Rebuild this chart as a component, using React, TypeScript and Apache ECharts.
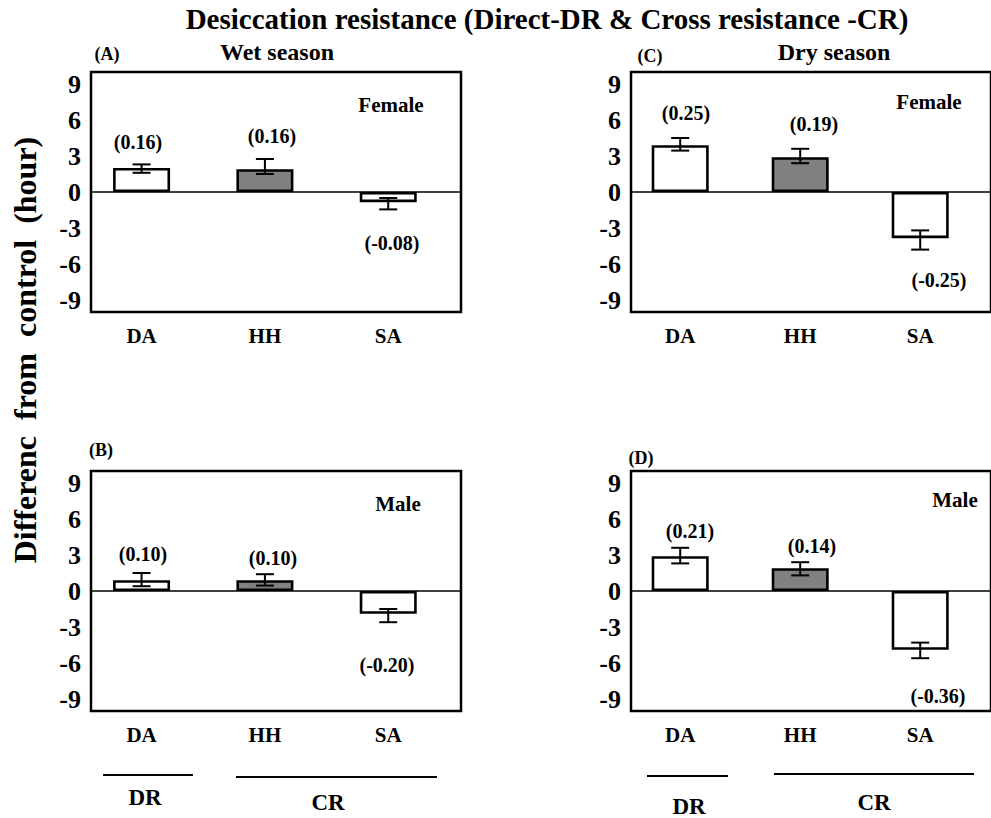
import React, { useEffect, useRef } from "react";
import * as echarts from "echarts";

const categories = ["DA", "HH", "SA"];
const yTickValues = [-9, -6, -3, 0, 3, 6, 9];

// Panel A: Wet season, Female
const wetFemale = [2.0, 1.9, -0.85];
const wetFemaleLow = [1.6, 1.5, -1.45];
const wetFemaleHigh = [2.3, 2.75, -0.5];
const wetFemaleEffect = ["(0.16)", "(0.16)", "(-0.08)"];

// Panel B: Wet season, Male
const wetMale = [0.9, 0.9, -1.9];
const wetMaleLow = [0.4, 0.45, -2.6];
const wetMaleHigh = [1.5, 1.4, -1.5];
const wetMaleEffect = ["(0.10)", "(0.10)", "(-0.20)"];

// Panel C: Dry season, Female
const dryFemale = [3.9, 2.9, -3.85];
const dryFemaleLow = [3.45, 2.4, -4.8];
const dryFemaleHigh = [4.5, 3.6, -3.2];
const dryFemaleEffect = ["(0.25)", "(0.19)", "(-0.25)"];

// Panel D: Dry season, Male
const dryMale = [2.9, 1.9, -4.9];
const dryMaleLow = [2.3, 1.3, -5.6];
const dryMaleHigh = [3.6, 2.4, -4.3];
const dryMaleEffect = ["(0.21)", "(0.14)", "(-0.36)"];

const FONT = '"Liberation Serif", "Times New Roman", serif';

export default function App() {
  const ref = useRef<HTMLDivElement>(null);

  useEffect(() => {
    if (!ref.current) return;
    const chart = echarts.init(ref.current, null, { renderer: "svg" });

    const grids = [
      { left: 91, top: 72, width: 370, height: 240 },
      { left: 91, top: 471, width: 370, height: 240 },
      { left: 631, top: 72, width: 370, height: 240 },
      { left: 631, top: 471, width: 370, height: 240 },
    ];
    const panels = [
      { v: wetFemale, lo: wetFemaleLow, hi: wetFemaleHigh },
      { v: wetMale, lo: wetMaleLow, hi: wetMaleHigh },
      { v: dryFemale, lo: dryFemaleLow, hi: dryFemaleHigh },
      { v: dryMale, lo: dryMaleLow, hi: dryMaleHigh },
    ];

    const series: any[] = [];
    panels.forEach((p, i) => {
      series.push({
        type: "bar",
        xAxisIndex: i,
        yAxisIndex: i,
        barWidth: 57,
        data: p.v.map((val, j) => ({
          value: [j, val],
          itemStyle: { color: j === 1 ? "#808080" : "#ffffff" },
        })),
        itemStyle: { borderColor: "#000", borderWidth: 2.6 },
        markLine: {
          silent: true,
          symbol: "none",
          label: { show: false },
          lineStyle: { color: "#000", width: 1.5, type: "solid" },
          data: [{ yAxis: 0 }],
          z: 1,
        },
        z: 2,
      });
      series.push({
        type: "custom",
        xAxisIndex: i,
        yAxisIndex: i,
        z: 5,
        data: p.lo.map((l, j) => [j, l, p.hi[j]]),
        renderItem: (params: any, api: any) => {
          const a = api.coord([api.value(0), api.value(1)]);
          const b = api.coord([api.value(0), api.value(2)]);
          const hw = 9;
          const st = { stroke: "#000", lineWidth: 2 };
          return {
            type: "group",
            children: [
              { type: "line", shape: { x1: a[0], y1: a[1], x2: b[0], y2: b[1] }, style: st },
              { type: "line", shape: { x1: a[0] - hw, y1: a[1], x2: a[0] + hw, y2: a[1] }, style: st },
              { type: "line", shape: { x1: b[0] - hw, y1: b[1], x2: b[0] + hw, y2: b[1] }, style: st },
            ],
          };
        },
      });
    });

    const txt = (text: string, x: number, y: number, size: number, extra: any = {}) => ({
      type: "text",
      x,
      y,
      silent: true,
      z: 10,
      ...extra,
      style: {
        text,
        align: "center",
        verticalAlign: "middle",
        fontFamily: FONT,
        fontWeight: "bold",
        fontSize: size,
        fill: "#000",
      },
    });

    const eff = 20;
    const graphics: any[] = [
      txt("Desiccation resistance (Direct-DR & Cross resistance -CR)", 547, 19, 29),
      txt("Differenc  from  control  (hour)", 25, 350, 32, { rotation: Math.PI / 2 }),
      // Panel A
      txt("(A)", 107, 54, 18),
      txt("Wet season", 277, 52, 24),
      txt("Female", 391, 105, 21),
      txt(wetFemaleEffect[0], 138, 142, eff),
      txt(wetFemaleEffect[1], 272, 136, eff),
      txt(wetFemaleEffect[2], 392, 243, eff),
      // Panel C
      txt("(C)", 650, 56, 18),
      txt("Dry season", 834, 52, 24),
      txt("Female", 929, 102, 21),
      txt(dryFemaleEffect[0], 686, 113, eff),
      txt(dryFemaleEffect[1], 814, 124, eff),
      txt(dryFemaleEffect[2], 939, 280, eff),
      // Panel B
      txt("(B)", 101, 450, 18),
      txt("Male", 398, 504, 21),
      txt(wetMaleEffect[0], 143, 554, eff),
      txt(wetMaleEffect[1], 273, 558, eff),
      txt(wetMaleEffect[2], 387, 665, eff),
      // Panel D
      txt("(D)", 641, 458, 18),
      txt("Male", 955, 500, 21),
      txt(dryMaleEffect[0], 690, 531, eff),
      txt(dryMaleEffect[1], 812, 546, eff),
      txt(dryMaleEffect[2], 938, 696, eff),
      // DR / CR brackets
      { type: "line", shape: { x1: 103, y1: 775, x2: 193, y2: 775 }, style: { stroke: "#000", lineWidth: 2 } },
      { type: "line", shape: { x1: 236, y1: 777, x2: 437, y2: 777 }, style: { stroke: "#000", lineWidth: 2 } },
      { type: "line", shape: { x1: 647, y1: 776, x2: 728, y2: 776 }, style: { stroke: "#000", lineWidth: 2 } },
      { type: "line", shape: { x1: 774, y1: 774, x2: 974, y2: 774 }, style: { stroke: "#000", lineWidth: 2 } },
      txt("DR", 145, 797, 23),
      txt("CR", 328, 802, 23),
      txt("DR", 689, 806, 23),
      txt("CR", 874, 802, 23),
    ];

    chart.setOption({
      animation: false,
      backgroundColor: "#ffffff",
      textStyle: { fontFamily: FONT },
      grid: grids.map((g) => ({
        ...g,
        show: true,
        borderColor: "#000",
        borderWidth: 2.5,
        backgroundColor: "transparent",
        containLabel: false,
      })),
      xAxis: grids.map((_, i) => ({
        type: "value",
        gridIndex: i,
        min: -0.41,
        max: 2.59,
        splitLine: { show: false },
        axisTick: { show: false },
        axisLine: { show: false, onZero: false },
        axisLabel: {
          customValues: [0, 1, 2],
          formatter: (v: number) => categories[Math.round(v)] ?? "",
          color: "#000",
          fontFamily: FONT,
          fontWeight: "bold",
          fontSize: 21,
          margin: 13,
        },
      })),
      yAxis: grids.map((_, i) => ({
        type: "value",
        gridIndex: i,
        min: -10,
        max: 10,
        splitLine: { show: false },
        axisTick: { show: false },
        axisLine: { show: false },
        axisLabel: {
          customValues: yTickValues,
          formatter: (v: number) => String(v),
          color: "#000",
          fontFamily: FONT,
          fontWeight: "bold",
          fontSize: 26,
          margin: 10,
        },
      })),
      series,
      graphic: graphics,
    });

    return () => chart.dispose();
  }, []);

  return (
    <div
      ref={ref}
      style={{ position: "absolute", left: 0, top: 0, width: 991, height: 818, background: "#fff" }}
    />
  );
}
